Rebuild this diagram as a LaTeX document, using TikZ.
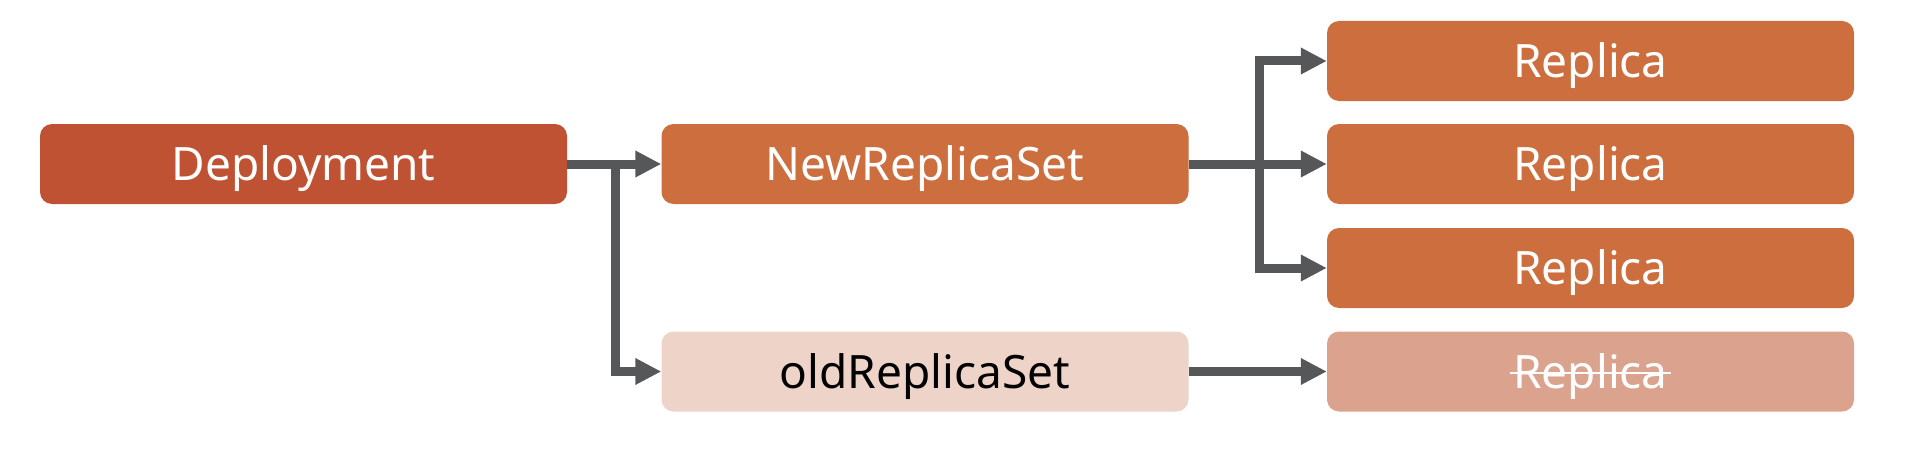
\documentclass[tikz,border=0pt]{standalone}
\usepackage{fontspec}
\setmainfont{Noto Sans}
\usetikzlibrary{arrows.meta}
\definecolor{depc}{HTML}{BE5232}
\definecolor{newc}{HTML}{CC6E3E}
\definecolor{oldc}{HTML}{EDD3C8}
\definecolor{oldrc}{HTML}{DBA28D}
\definecolor{linec}{HTML}{555759}
\begin{document}
\begin{tikzpicture}[x=1pt,y=-1pt,
  box/.style={rounded corners=12pt, minimum width=527pt, minimum height=80pt,
    inner sep=0pt, text height=33pt, text depth=0pt,
    font=\fontsize{46pt}{50pt}\selectfont, text=white},
  lbl/.style={inner sep=0pt, text height=33pt, text depth=0pt,
    font=\fontsize{46pt}{50pt}\selectfont, text=white},
  conn/.style={draw=linec, line width=9pt, -{Triangle[length=26pt,width=25pt]}}]
\useasboundingbox (0,0) rectangle (1908,452);
\node[box, fill=depc] (dep) at (303.5,164) {Deployment};
\node[box, fill=newc] (new) at (925,164) {NewReplicaSet};
\node[box, fill=oldc, text=black] (old) at (925,371.5) {oldReplicaSet};
\node[box, fill=newc] (r1) at (1590.5,61) {Replica};
\node[box, fill=newc] (r2) at (1590.5,164) {Replica};
\node[box, fill=newc] (r3) at (1590.5,268) {Replica};
\node[box, fill=oldrc] (r4) at (1590.5,371.5) {};
\node[lbl] (r4t) at (r4.center) {Replica};
\draw[white, line width=2.5pt] ([xshift=-3pt,yshift=15pt]r4t.base west) -- ([xshift=3pt,yshift=15pt]r4t.base east);
\coordinate (b1) at (615,164);
\coordinate (b2) at (1259,164);
\draw[conn] (dep) -- (new);
\draw[conn] (b1) |- (old);
\draw[conn] (new) -- (r2);
\draw[conn] (b2) |- (r1);
\draw[conn] (b2) |- (r3);
\draw[conn] (old) -- (r4);
\end{tikzpicture}
\end{document}
